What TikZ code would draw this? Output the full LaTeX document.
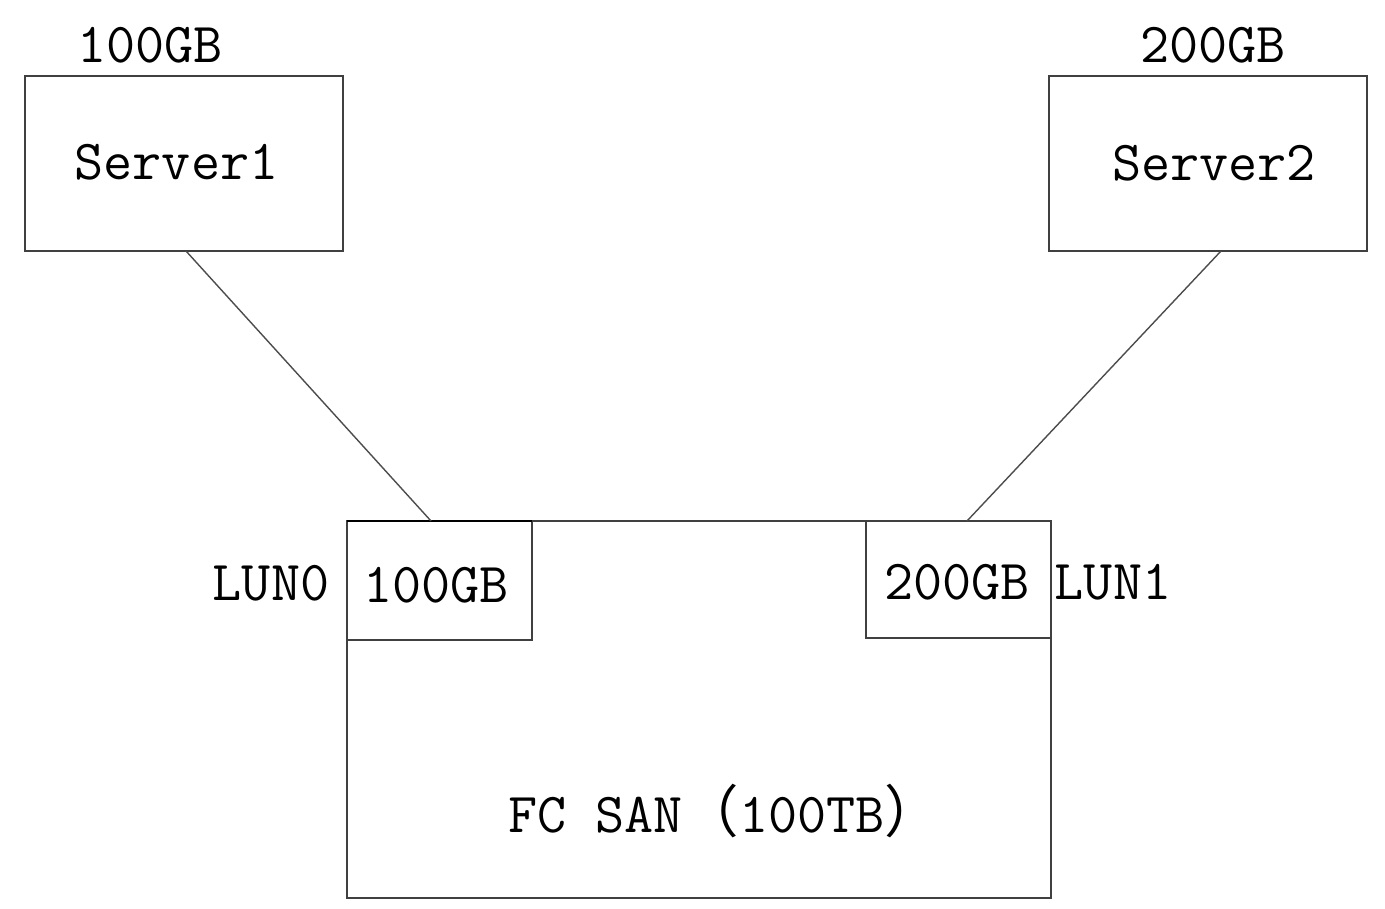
\documentclass[tikz,border=0pt]{standalone}
\usepackage{fontspec}
\newfontfamily\cjk{Noto Sans CJK SC}
\begin{document}
\begin{tikzpicture}[x=1pt,y=-1pt,
  box/.style={draw=black!75, line width=1.8pt, inner sep=0pt, outer sep=0pt},
  lbl/.style={inner sep=0pt, font=\fontsize{56.5}{62}\selectfont\ttfamily},
  wire/.style={draw=black!70, line width=1.4pt}]
\useasboundingbox (0,0) rectangle (1385,909);
\node[box, minimum width=318pt, minimum height=175pt] (s1) at (184,163.5) {};
\node[box, minimum width=318pt, minimum height=175pt] (s2) at (1208,163.5) {};
\node[box, minimum width=704pt, minimum height=377pt] (san) at (699,709.5) {};
\node[box, minimum width=185pt, minimum height=119pt] (lun0) at (439.5,580.5) {};
\node[box, minimum width=185pt, minimum height=117pt] (lun1) at (958.5,579.5) {};
\draw[line width=2.6pt, black] (lun0.north west) -- (lun0.north east);
\node[lbl] (t1) at (150,45) {100GB};
\node[lbl] (t2) at (1213,45) {200GB};
\node[lbl] (n1) at (176.5,162) {Server1};
\node[lbl] (n2) at (1214,163) {Server2};
\node[lbl] (l0) at (271,583) {LUN0};
\node[lbl] (c0) at (436,585) {100GB};
\node[lbl] (c1) at (957,582) {200GB};
\node[lbl] (l1) at (1113,582) {LUN1};
\node[lbl, anchor=west] (fc) at (508,811) {FC SAN{\cjk （}100TB{\cjk ）}};
\draw[wire] ([xshift=161pt]s1.south west) -- ([xshift=84pt]lun0.north west);
\draw[wire] ([xshift=172pt]s2.south west) -- ([xshift=101pt]lun1.north west);
\end{tikzpicture}
\end{document}
